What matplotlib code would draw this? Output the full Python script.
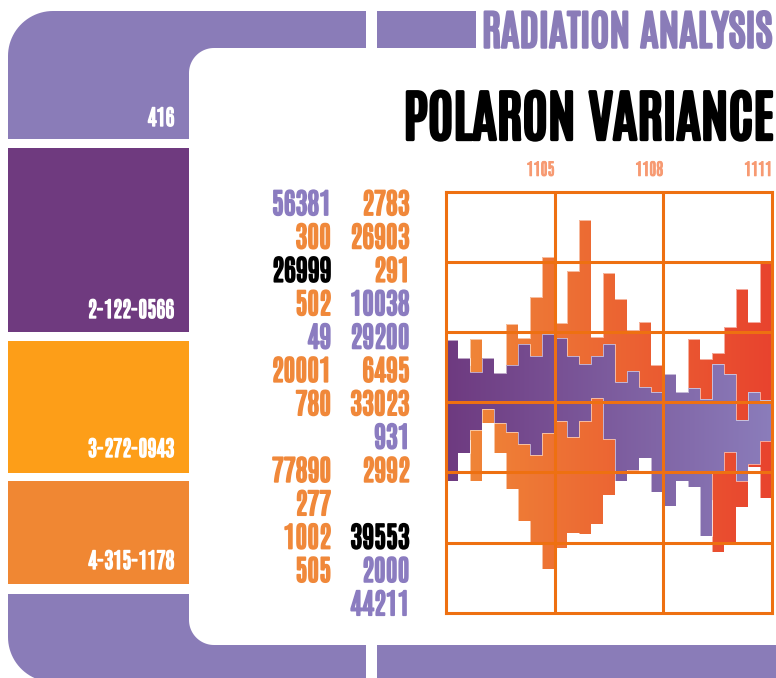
import numpy as np
import matplotlib
matplotlib.use("Agg")
import matplotlib.pyplot as plt
from matplotlib import patheffects
from matplotlib.patches import Polygon, Rectangle
from matplotlib.colors import LinearSegmentedColormap

plt.rcParams['font.family'] = ['Antonio', 'DejaVu Sans Condensed', 'DejaVu Sans']

# --- data ---
tick_pos = [9, 18, 27]
tick_labels = ['1105', '1108', '1111']

purple_hi = [0.89, 0.63, 0.43, 0.63, 0.42, 0.53, 0.83, 0.66, 0.97, 0.92, 0.66, 0.54, 0.66, 0.83,
             0.29, 0.45, 0.22, 0.15, 0.40, 0.15, 0.20, 0.04, 0.54, 0.40, -0.26, 0.15, 0.03]
purple_lo = [-1.13, -0.73, -0.40, -0.09, -0.30, -0.42, -0.60, -0.75, -0.44, -0.27, -0.49, -0.27, 0.06, -0.53,
             -1.13, -0.97, -0.79, -1.28, -1.48, -1.13, -1.21, -1.90, -1.01, -0.71, -1.13, -0.88, -0.56]
orange_hi = [0.72, 0.53, 0.90, 0.46, 0.25, 1.12, 0.91, 1.50, 2.07, 1.13, 1.87, 2.59, 0.93, 1.84,
             1.47, 1.03, 1.14, 0.53, 0.17, 0.03, 0.90, 0.62, 0.70, 1.07, 1.61, 1.14, 1.98]
orange_lo = [-0.97, -0.54, -1.13, -0.30, -0.73, -1.23, -1.70, -2.00, -2.38, -2.08, -1.86, -1.88, -1.73, -1.32,
             -0.97, -1.02, -0.54, -0.25, -1.11, -0.97, -0.68, -1.39, -2.13, -1.99, -1.49, -0.92, -1.37]

col1_text = ['56381', '300', '26999', '502', '49', '20001', '780', '', '77890', '277', '1002', '505', '']
col1_color = ['p', 'o', 'k', 'o', 'p', 'o', 'o', 'o', 'o', 'o', 'o', 'o', 'o']
col2_text = ['2783', '26903', '291', '10038', '29200', '6495', '33023', '931', '2992', '', '39553', '2000', '44211']
col2_color = ['o', 'o', 'o', 'p', 'p', 'o', 'o', 'p', 'o', 'o', 'k', 'p', 'p']

side_labels = ['416', '2-122-0566', '3-272-0943', '4-315-1178']

LAV = '#8a7cb8'
DARK = '#6f3a7f'
YEL = '#fd9e18'
ORA = '#f08733'
GRID = '#ee7011'
text_cols = {'p': '#8b7cc0', 'o': '#f0883a', 'k': '#000000'}


def heavy(color, w):
    # thicken the regular-weight glyphs a little
    return [patheffects.withStroke(linewidth=w, foreground=color)]


W, H = 776, 678
fig = plt.figure(figsize=(W / 100, H / 100), dpi=100)

# background frame in pixel coordinates
bg = fig.add_axes([0, 0, 1, 1])
bg.set_xlim(0, W)
bg.set_ylim(H, 0)
bg.axis('off')


def arc(cx, cy, r, a0, a1, n=24):
    t = np.radians(np.linspace(a0, a1, n))
    return list(zip(cx + r * np.cos(t), cy + r * np.sin(t)))


R, r = 45, 25
top = [(8, 139)] + arc(8 + R, 11 + R, R, 180, 270) + [(366, 11), (366, 48)] \
    + arc(189 + r, 48 + r, r, 270, 180) + [(189, 139)]
bg.add_patch(Polygon(top, closed=True, fc=LAV, ec='none'))
bot = [(8, 594), (189, 594)] + arc(189 + r, 645 - r, r, 180, 90) + [(366, 645), (366, 682)] \
    + arc(8 + R, 682 - R, R, 90, 180)
bg.add_patch(Polygon(bot, closed=True, fc=LAV, ec='none'))
bg.add_patch(Rectangle((377, 11), 99, 37, fc=LAV, ec='none'))
bg.add_patch(Rectangle((377, 645), 400, 40, fc=LAV, ec='none'))
bg.add_patch(Rectangle((8, 148), 181, 184, fc=DARK, ec='none'))
bg.add_patch(Rectangle((8, 341), 181, 132, fc=YEL, ec='none'))
bg.add_patch(Rectangle((8, 481), 181, 103, fc=ORA, ec='none'))

for lab, yb in zip(side_labels, [126, 318, 457, 569]):
    bg.text(174.5, yb, lab, color='white', fontsize=15.5, ha='right', va='baseline',
            path_effects=heavy('white', 1.0))

bg.text(772, 47.5, 'RADIATION ANALYSIS', color=LAV, fontsize=30, ha='right', va='baseline',
        path_effects=heavy(LAV, 1.8))
bg.text(774, 139.5, 'POLARON VARIANCE', color='black', fontsize=40, ha='right', va='baseline',
        path_effects=heavy('black', 2.4))

for i in range(len(col1_text)):
    yb = 215 + i * 33.35
    bg.text(331, yb, col1_text[i], color=text_cols[col1_color[i]], fontsize=20.5, ha='right',
            va='baseline', path_effects=heavy(text_cols[col1_color[i]], 1.3))
    bg.text(409.5, yb, col2_text[i], color=text_cols[col2_color[i]], fontsize=20.5, ha='right',
            va='baseline', path_effects=heavy(text_cols[col2_color[i]], 1.3))

# chart
ax = fig.add_axes([445.7 / W, (H - 612.7) / H, 326.6 / W, 421 / H])
edges = np.arange(len(purple_hi) + 1)


def grad_band(lo, hi, c0, c1, z):
    lo = np.append(lo, lo[-1])
    hi = np.append(hi, hi[-1])
    poly = ax.fill_between(edges, lo, hi, step='post', facecolor='none',
                           edgecolor=(1, 1, 1, 0.55), linewidth=0.7, zorder=z + 0.5)
    cmap = LinearSegmentedColormap.from_list('g', [c0, c1])
    grad = np.linspace(0, 1, 256).reshape(1, -1)
    im = ax.imshow(grad, extent=[0, 27, -3, 3], aspect='auto', cmap=cmap, zorder=z,
                   interpolation='bilinear')
    im.set_clip_path(poly.get_paths()[0], transform=ax.transData)


grad_band(orange_lo, orange_hi, '#f08a38', '#e8432e', 1)
grad_band(purple_lo, purple_hi, '#6e3a80', '#8b7dbb', 2)

ax.set_xlim(0, 27)
ax.set_ylim(-3, 3)
for xv in tick_pos[:-1]:
    ax.axvline(xv, color=GRID, lw=2.2, zorder=5)
for yv in [-2, -1, 0, 1, 2]:
    ax.axhline(yv, color=GRID, lw=2.2, zorder=5)
for s in ax.spines.values():
    s.set_color(GRID)
    s.set_linewidth(2.2)
    s.set_zorder(6)
ax.set_yticks([])
ax.xaxis.tick_top()
ax.set_xticks(tick_pos)
ax.set_xticklabels(tick_labels, color='#f79a72', fontsize=12, ha='right')
for t in ax.get_xticklabels():
    t.set_path_effects(heavy('#f79a72', 0.7))
ax.tick_params(axis='x', length=0, pad=10)

fig.savefig('out.png', dpi=100)
